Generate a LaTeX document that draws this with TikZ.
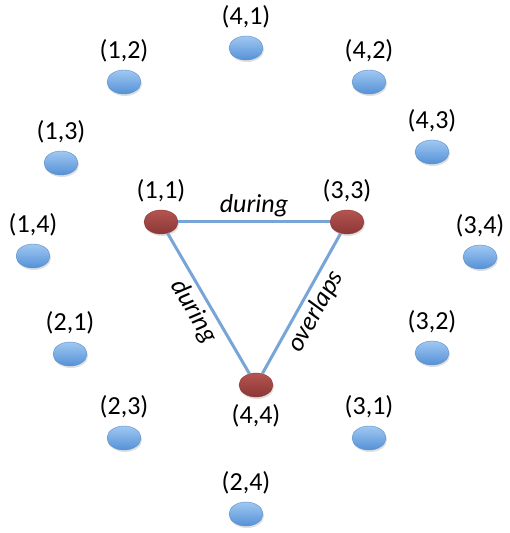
\documentclass[tikz,border=0pt]{standalone}
\usepackage{fontspec}
\setmainfont{Carlito}
\usetikzlibrary{shapes.geometric,shadows}
\definecolor{bluetop}{RGB}{160,200,242}
\definecolor{bluebot}{RGB}{85,145,215}
\definecolor{blueline}{RGB}{90,140,200}
\definecolor{redtop}{RGB}{180,85,80}
\definecolor{redbot}{RGB}{140,55,55}
\definecolor{edgecol}{RGB}{120,165,215}
\begin{document}
\begin{tikzpicture}[x=1pt,y=1pt,font=\fontsize{26}{29}\selectfont,
dot/.style={ellipse,minimum width=34pt,minimum height=24pt,inner sep=0pt,
  drop shadow={opacity=0.25,shadow xshift=1pt,shadow yshift=-2pt}},
bdot/.style={dot,draw=blueline,top color=bluetop,bottom color=bluebot},
rdot/.style={dot,draw=redbot,top color=redtop,bottom color=redbot},
lbl/.style={inner sep=0pt},
label distance=7pt,
rel/.style={edgecol,line width=3pt},
rlab/.style={text=black,font=\fontsize{26}{29}\selectfont\itshape,inner sep=4pt}]
\useasboundingbox (0,0) rectangle (509,533);
% outer ring
\node[bdot,label={[lbl]above:{(4,1)}}] (p41) at (246,485) {};
\node[bdot,label={[lbl]above:{(1,2)}}] (p12) at (124,451) {};
\node[bdot,label={[lbl]above:{(4,2)}}] (p42) at (369,451) {};
\node[bdot,label={[lbl]above:{(1,3)}}] (p13) at (61,370) {};
\node[bdot,label={[lbl]above:{(4,3)}}] (p43) at (432,381) {};
\node[bdot,label={[lbl]above:{(1,4)}}] (p14) at (33,277) {};
\node[bdot,label={[lbl]above:{(3,4)}}] (p34) at (480,276) {};
\node[bdot,label={[lbl]above:{(2,1)}}] (p21) at (70,179) {};
\node[bdot,label={[lbl]above:{(3,2)}}] (p32) at (432,180) {};
\node[bdot,label={[lbl]above:{(2,3)}}] (p23) at (124,95) {};
\node[bdot,label={[lbl]above:{(3,1)}}] (p31) at (369,95) {};
\node[bdot,label={[lbl]above:{(2,4)}}] (p24) at (246,19) {};
% triangle
\node[rdot,label={[lbl]above:{(1,1)}}] (p11) at (161,311) {};
\node[rdot,label={[lbl]above:{(3,3)}}] (p33) at (347,311) {};
\node[rdot,label={[lbl]below:{(4,4)}}] (p44) at (256,148) {};
\draw[rel] (p11)--node[rlab,above]{during}(p33);
\draw[rel] (p11)--node[rlab,sloped,below]{during}(p44);
\draw[rel] (p44)--node[rlab,sloped,below]{overlaps}(p33);
\end{tikzpicture}
\end{document}
